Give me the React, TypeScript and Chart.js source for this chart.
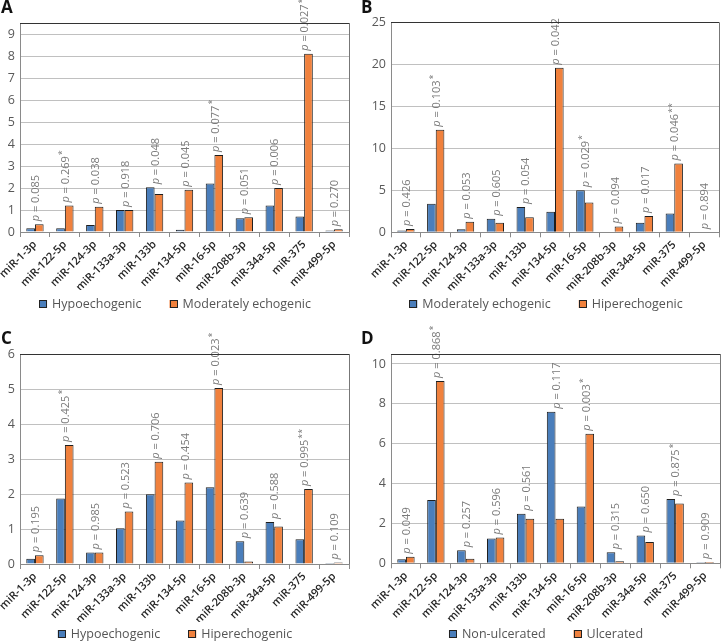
import React, { useEffect, useRef } from "react";
import { Chart, registerables } from "chart.js";

Chart.register(...registerables);
Chart.defaults.font.family = '"Open Sans", "Noto Sans", sans-serif';

const categories = [
  "miR-1-3p", "miR-122-5p", "miR-124-3p", "miR-133a-3p", "miR-133b", "miR-134-5p",
  "miR-16-5p", "miR-208b-3p", "miR-34a-5p", "miR-375", "miR-499-5p",
];

// Panel A
const aHypo = [0.17, 0.17, 0.32, 1.0, 2.03, 0.1, 2.2, 0.63, 1.2, 0.7, 0.07];
const aModerate = [0.35, 1.2, 1.15, 1.0, 1.73, 1.92, 3.5, 0.67, 2.0, 8.1, 0.12];
const aP = ["0.085", "0.269", "0.038", "0.918", "0.048", "0.045", "0.077", "0.051", "0.006", "0.027", "0.270"];
const aStars = ["", "*", "", "", "", "", "*", "", "", "**", ""];

// Panel B
const bModerate = [0.2, 3.4, 0.35, 1.6, 3.0, 2.45, 5.0, 0, 1.15, 2.25, 0];
const bHiper = [0.4, 12.2, 1.25, 1.15, 1.8, 19.6, 3.55, 0.7, 1.95, 8.2, 0];
const bP = ["0.426", "0.103", "0.053", "0.605", "0.054", "0.042", "0.029", "0.094", "0.017", "0.046", "0.894"];
const bStars = ["", "*", "", "", "", "", "*", "", "", "**", ""];

// Panel C
const cHypo = [0.15, 1.87, 0.33, 1.02, 1.99, 1.24, 2.19, 0.65, 1.2, 0.71, 0.03];
const cHiper = [0.25, 3.4, 0.33, 1.5, 2.92, 2.33, 5.03, 0.07, 1.07, 2.14, 0.04];
const cP = ["0.195", "0.425", "0.985", "0.523", "0.706", "0.454", "0.023", "0.639", "0.588", "0.995", "0.109"];
const cStars = ["", "*", "", "", "", "", "*", "", "", "**", ""];

// Panel D
const dNonUlcer = [0.2, 3.18, 0.65, 1.25, 2.48, 7.6, 2.85, 0.55, 1.4, 3.23, 0.05];
const dUlcer = [0.33, 9.15, 0.23, 1.3, 2.23, 2.23, 6.5, 0.1, 1.07, 3.0, 0.07];
const dP = ["0.049", "0.868", "0.257", "0.596", "0.561", "0.117", "0.003", "0.315", "0.650", "0.875", "0.909"];
const dStars = ["", "*", "", "", "", "", "*", "", "", "*", ""];

const BLUE = "#4A7EBB";
const ORANGE = "#F0813D";

type PanelProps = {
  letter: string;
  left: number;
  top: number;
  width: number;
  height: number;
  yWidth: number;
  padTop: number;
  padRight: number;
  padBottom: number;
  yMax: number;
  yStep: number;
  labels: [string, string];
  s1: number[];
  s2: number[];
  pvals: string[];
  stars: string[];
  legendCenter: number;
  legendY: number;
  letterY: number;
};

const annotatePlugin = {
  id: "annot",
  afterDatasetsDraw(chart: any, _args: any, opts: any) {
    const { ctx, scales } = chart;
    const x = scales.x, y = scales.y;
    const d0 = chart.data.datasets[0].data as number[];
    const d1 = chart.data.datasets[1].data as number[];
    const zero = y.getPixelForValue(0);
    ctx.save();
    ctx.fillStyle = "#7a7a7a";
    (opts.pvals as string[]).forEach((p, i) => {
      const cx = x.getPixelForValue(i);
      const topPx = y.getPixelForValue(Math.max(d0[i], d1[i]));
      const start = Math.min(topPx - 3, zero - 3);
      ctx.save();
      ctx.translate(cx + 1, start);
      ctx.rotate(-Math.PI / 2);
      ctx.textBaseline = "middle";
      ctx.textAlign = "left";
      ctx.font = 'italic 11px "Open Sans"';
      ctx.fillText("p", 0, 0);
      let w = ctx.measureText("p").width;
      ctx.font = '11px "Open Sans"';
      const rest = " = " + p;
      ctx.fillText(rest, w, 0);
      w += ctx.measureText(rest).width;
      const st = opts.stars[i];
      if (st) {
        ctx.font = '9px "Open Sans"';
        ctx.fillText(st, w + 1, -3);
      }
      ctx.restore();
    });
    ctx.restore();
  },
  afterDraw(chart: any, _args: any, opts: any) {
    const { ctx, chartArea } = chart;
    ctx.save();
    // frame top and right
    ctx.strokeStyle = "#333";
    ctx.lineWidth = 1;
    ctx.beginPath();
    ctx.moveTo(chartArea.left, Math.round(chartArea.top) + 0.5);
    ctx.lineTo(chartArea.right, Math.round(chartArea.top) + 0.5);
    ctx.stroke();
    ctx.strokeStyle = "#777";
    ctx.beginPath();
    ctx.moveTo(Math.round(chartArea.right) + 0.5, chartArea.top);
    ctx.lineTo(Math.round(chartArea.right) + 0.5, chartArea.bottom);
    ctx.stroke();
    // panel letter
    ctx.fillStyle = "#111";
    ctx.font = 'bold 17px "Open Sans"';
    ctx.textBaseline = "top";
    ctx.textAlign = "left";
    ctx.fillText(opts.letter, 1, opts.letterY);
    // legend
    const datasets = chart.data.datasets;
    ctx.font = '12.5px "Open Sans"';
    const box = 8, gapBox = 5, gapItem = 28;
    const widths = datasets.map((ds: any) => box + gapBox + ctx.measureText(ds.label).width);
    const total = widths.reduce((a: number, b: number) => a + b, 0) + gapItem * (datasets.length - 1);
    let lx = opts.legendCenter - total / 2;
    const ly = opts.legendY;
    datasets.forEach((ds: any, i: number) => {
      ctx.fillStyle = ds.backgroundColor;
      ctx.fillRect(lx, ly - box / 2, box, box);
      ctx.strokeStyle = "#222";
      ctx.strokeRect(Math.round(lx) + 0.5, Math.round(ly - box / 2) + 0.5, box - 1, box - 1);
      ctx.fillStyle = "#555";
      ctx.textBaseline = "middle";
      ctx.fillText(ds.label, lx + box + gapBox, ly + 0.5);
      lx += widths[i] + gapItem;
    });
    ctx.restore();
  },
};

function Panel(props: PanelProps) {
  const ref = useRef<HTMLCanvasElement | null>(null);
  useEffect(() => {
    if (!ref.current) return;
    const chart = new Chart(ref.current, {
      type: "bar",
      data: {
        labels: categories,
        datasets: [
          {
            label: props.labels[0],
            data: props.s1,
            backgroundColor: BLUE,
            borderColor: "#1e1e1e",
            borderWidth: 1,
            barPercentage: 1,
            categoryPercentage: 0.58,
          },
          {
            label: props.labels[1],
            data: props.s2,
            backgroundColor: ORANGE,
            borderColor: "#1e1e1e",
            borderWidth: 1,
            barPercentage: 1,
            categoryPercentage: 0.58,
          },
        ],
      },
      options: {
        responsive: false,
        animation: false,
        layout: {
          padding: { left: 0, top: props.padTop, right: props.padRight, bottom: props.padBottom },
        },
        plugins: {
          legend: { display: false },
          tooltip: { enabled: false },
          annot: {
            pvals: props.pvals,
            stars: props.stars,
            letter: props.letter,
            legendCenter: props.legendCenter,
            legendY: props.legendY,
            letterY: props.letterY,
          },
        } as any,
        scales: {
          x: {
            grid: {
              display: true,
              drawOnChartArea: false,
              drawTicks: true,
              tickLength: 5,
              color: "#8a8a8a",
              offset: true,
            },
            border: { display: true, color: "#8a8a8a" },
            ticks: {
              autoSkip: false,
              minRotation: 45,
              maxRotation: 45,
              color: "#262626",
              padding: 1,
              font: { size: 11, weight: 600 as any },
            },
            afterFit: (s: any) => {
              s.height = 58;
              s.paddingLeft = 0;
              s.paddingRight = 0;
            },
          },
          y: {
            min: 0,
            max: props.yMax,
            grid: { color: "#c0c0c0", drawTicks: false },
            border: { display: true, color: "#8a8a8a" },
            ticks: {
              stepSize: props.yStep,
              color: "#595959",
              padding: 5,
              font: { size: 12.5 },
            },
            afterBuildTicks: (axis: any) => {
              const t: { value: number }[] = [];
              for (let v = 0; v <= props.yMax + 1e-9; v += props.yStep) t.push({ value: v });
              axis.ticks = t;
            },
            afterFit: (s: any) => {
              s.width = props.yWidth;
              s.paddingTop = 0;
              s.paddingBottom = 0;
            },
          },
        },
      },
      plugins: [annotatePlugin],
    });
    return () => chart.destroy();
  }, []);
  return (
    <canvas
      ref={ref}
      width={props.width}
      height={props.height}
      style={{ position: "absolute", left: props.left, top: props.top, width: props.width, height: props.height }}
    />
  );
}

export default function App() {
  return (
    <div style={{ position: "fixed", left: 0, top: 0, width: 721, height: 642, background: "#fff" }}>
      <Panel
        letter="A" left={0} top={0} width={360} height={321}
        yWidth={20} padTop={23} padRight={11} padBottom={31}
        yMax={9.5} yStep={1}
        labels={["Hypoechogenic", "Moderately echogenic"]}
        s1={aHypo} s2={aModerate} pvals={aP} stars={aStars}
        legendCenter={175} legendY={304} letterY={0}
      />
      <Panel
        letter="B" left={360} top={0} width={361} height={321}
        yWidth={31} padTop={22.3} padRight={2} padBottom={30.7}
        yMax={25} yStep={5}
        labels={["Moderately echogenic", "Hiperechogenic"]}
        s1={bModerate} s2={bHiper} pvals={bP} stars={bStars}
        legendCenter={186} legendY={304} letterY={0}
      />
      <Panel
        letter="C" left={0} top={321} width={360} height={321}
        yWidth={20} padTop={33} padRight={11} padBottom={20}
        yMax={6} yStep={1}
        labels={["Hypoechogenic", "Hiperechogenic"]}
        s1={cHypo} s2={cHiper} pvals={cP} stars={cStars}
        legendCenter={175} legendY={313} letterY={10}
      />
      <Panel
        letter="D" left={360} top={321} width={361} height={321}
        yWidth={31} padTop={33} padRight={1} padBottom={20.7}
        yMax={10.5} yStep={2}
        labels={["Non-ulcerated", "Ulcerated"]}
        s1={dNonUlcer} s2={dUlcer} pvals={dP} stars={dStars}
        legendCenter={186} legendY={313} letterY={10}
      />
    </div>
  );
}
